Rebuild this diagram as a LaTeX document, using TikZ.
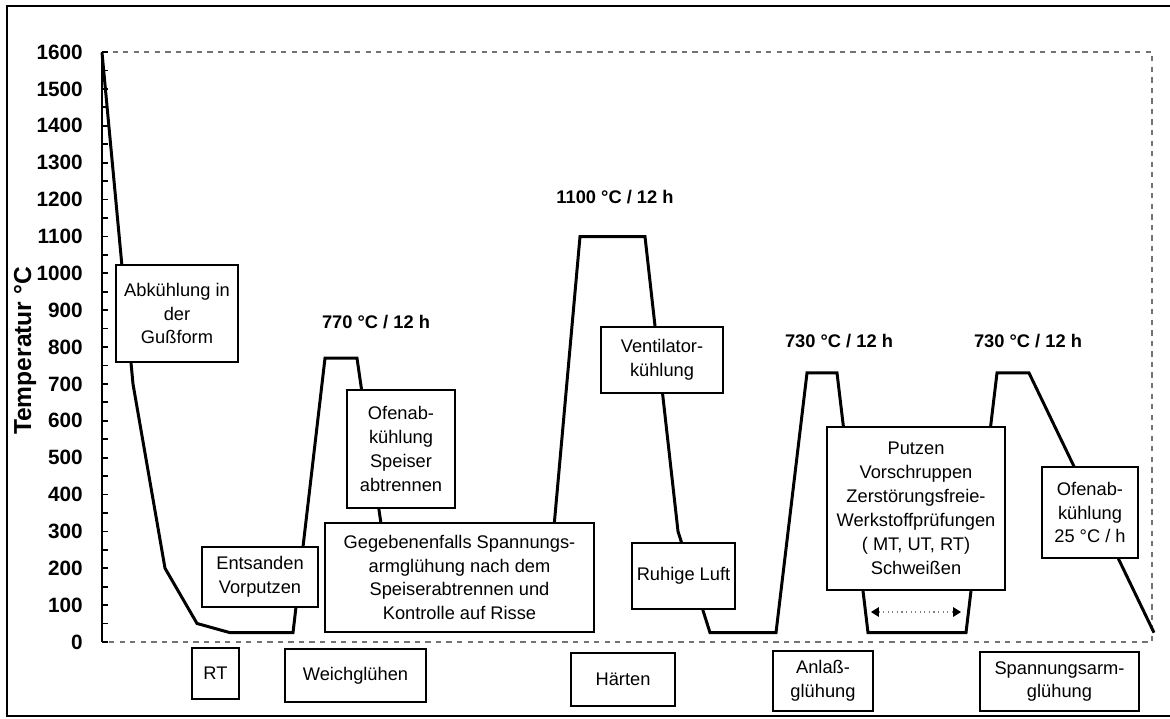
\documentclass[tikz,border=0pt]{standalone}
\usepackage{fontspec}
\setmainfont{Liberation Sans}
\usepackage{tikz}
\usetikzlibrary{arrows.meta}
\usetikzlibrary{positioning}

\begin{document}
\begin{tikzpicture}[x=0.02cm,y=-0.02cm,
		stepbox/.style={draw,fill=white,line width=1pt,inner sep=0pt,align=center,
			font=\fontsize{10.4}{13.6}\selectfont},
		hold/.style={font=\fontsize{10.4}{12}\selectfont\bfseries},
		curve/.style={line width=1.7pt,line join=miter},
		ticklabel/.style={font=\fontsize{11.8}{12}\selectfont\bfseries,anchor=east,inner sep=0pt}
	]
	\useasboundingbox (0,0) rectangle (1170,718);

	% the frame
	\draw[line width=1.2pt] (1170,6) -- (7,6) -- (7,716) -- (1170,716);
	\draw[black!55,dashed,line width=0.6pt] (102,52) -- (1152,52) -- (1152,642) -- (102,642);

	% the axis
	\draw[line width=1pt] (102,52) -- (102,642);
	\foreach \t in {0,50,...,1600}
		\draw[line width=1pt] (102,{642-0.36875*\t}) -- (108,{642-0.36875*\t});
	\foreach \t in {0,100,...,1600}
		\node[ticklabel] (tick\t) at (83,{642-0.36875*\t}) {\t};
	\node[rotate=90,font=\fontsize{14}{15}\selectfont\bfseries] (ylabel) at (25,351) {Temperatur °C};

	% the temperature curve
	\begin{scope}[shift={(0cm,-12.84cm)},y=0.007375cm]
		\draw[curve] (102,1600) -- (133,700) -- (165,200) -- (197,50) -- (230,25)
			-- (293,25) -- (325,770) -- (357,770) -- (396,40)
			-- (545,40) -- (580,1100) -- (645,1100) -- (678,300) -- (710,25)
			-- (776,25) -- (807,730) -- (837,730) -- (868,25)
			-- (966,25) -- (997,730) -- (1029,730) -- (1154,25);
	\end{scope}

	% the holding times
	\node[hold] (h770) at (376,322) {770 °C / 12 h};
	\node[hold] (h1100) at (615,197) {1100 °C / 12 h};
	\node[hold] (h730a) at (839,341) {730 °C / 12 h};
	\node[hold] (h730b) at (1028,341) {730 °C / 12 h};

	% the steps along the curve
	\node[stepbox,minimum width=2.44cm,minimum height=1.94cm] (cast) at (177,313.5) {Abkühlung in\\der\\Gußform};
	\node[stepbox,minimum width=2.32cm,minimum height=1.2cm] (sand) at (260,577) {Entsanden\\Vorputzen};
	\node[stepbox,minimum width=2.16cm,minimum height=2.36cm] (furnA) at (401,449) {Ofenab-\\kühlung\\Speiser\\abtrennen};
	\node[stepbox,minimum width=5.38cm,minimum height=2.18cm] (relax) at (459.5,577.5) {Gegebenenfalls Spannungs-\\armglühung nach dem\\Speiserabtrennen und\\Kontrolle auf Risse};
	\node[stepbox,minimum width=2.44cm,minimum height=1.32cm] (fan) at (662,360) {Ventilator-\\kühlung};
	\node[stepbox,minimum width=2.06cm,minimum height=1.32cm] (air) at (683.5,576) {Ruhige Luft};
	\node[stepbox,minimum width=3.56cm,minimum height=3.26cm] (clean) at (916,508.5) {Putzen\\Vorschruppen\\Zerstörungsfreie-\\Werkstoffprüfungen\\( MT, UT, RT)\\Schweißen};
	\node[stepbox,minimum width=1.92cm,minimum height=1.82cm] (furnB) at (1090,512.5) {Ofenab-\\kühlung\\25 °C / h};

	% the gap between the annealings
	\coordinate (gapL) at (871,612);
	\coordinate (gapR) at (961,612);
	\draw[black!50,dotted,line width=0.6pt,
		{Triangle[color=black,length=4.5pt,width=5.5pt]}-{Triangle[color=black,length=4.5pt,width=5.5pt]}] (gapL) -- (gapR);

	% the phases
	\node[stepbox,minimum width=0.94cm,minimum height=1.02cm] (rt) at (215.5,673.5) {RT};
	\node[stepbox,minimum width=2.82cm,minimum height=1.06cm] (soft) at (355.5,675.5) {Weichglühen};
	\node[stepbox,minimum width=2.08cm,minimum height=1.06cm] (hard) at (623,679.5) {Härten};
	\node[stepbox,minimum width=2.0cm,minimum height=1.2cm] (temper) at (823,681) {Anlaß-\\glühung};
	\node[stepbox,minimum width=3.18cm,minimum height=1.18cm] (relief) at (1059.5,681.5) {Spannungsarm-\\glühung};
\end{tikzpicture}
\end{document}
